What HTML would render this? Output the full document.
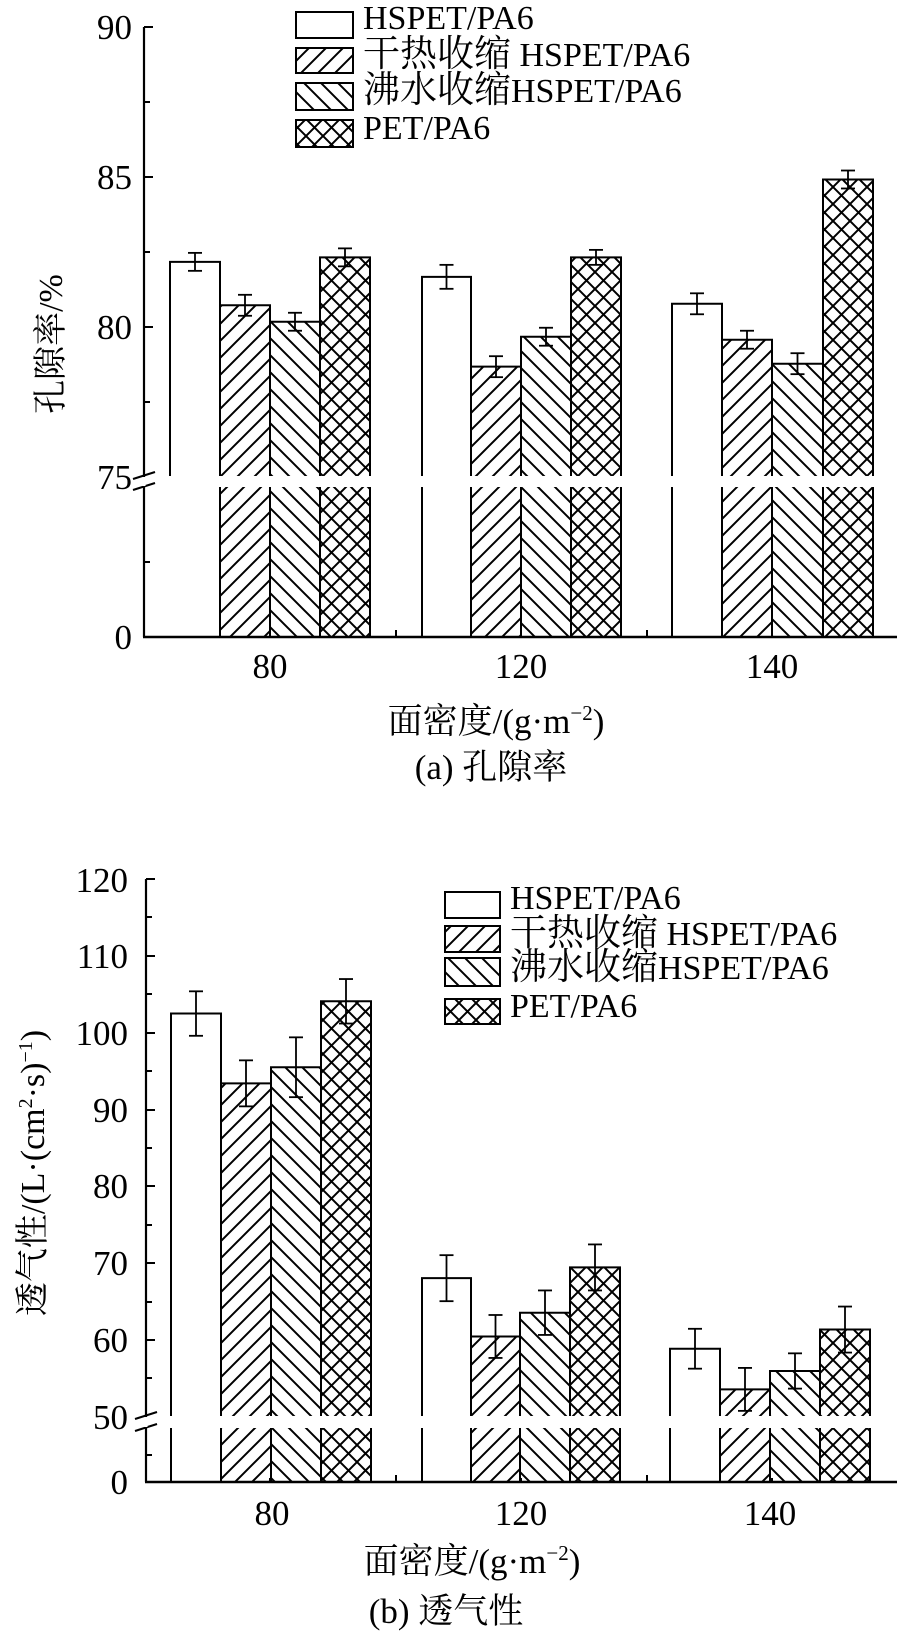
<!DOCTYPE html>
<html><head><meta charset="utf-8"><style>
html,body{margin:0;padding:0;background:#fff}
svg{display:block}
text{font-family:"Liberation Serif","Noto Serif CJK SC","Noto Sans CJK SC",serif;fill:#000}
</style></head><body>
<svg id="s" width="900" height="1634" viewBox="0 0 900 1634" xmlns="http://www.w3.org/2000/svg">
<defs>
<pattern id="fw" patternUnits="userSpaceOnUse" width="17" height="17"><path d="M-2,2 L2,-2 M0,17 L17,0 M15,19 L19,15" stroke="#000" stroke-width="2"/></pattern>
<pattern id="bk" patternUnits="userSpaceOnUse" width="17" height="17"><path d="M-2,15 L2,19 M0,0 L17,17 M15,-2 L19,2" stroke="#000" stroke-width="2"/></pattern>
<pattern id="cx" patternUnits="userSpaceOnUse" width="17" height="17"><path d="M-2,2 L2,-2 M0,17 L17,0 M15,19 L19,15 M-2,15 L2,19 M0,0 L17,17 M15,-2 L19,2" stroke="#000" stroke-width="2"/></pattern>
</defs>
<g id="g"></g>
<!-- Chart a text -->
<g font-size="35" text-anchor="end">
<text x="132" y="39">90</text><text x="132" y="189">85</text><text x="132" y="339">80</text><text x="132" y="489">75</text><text x="132" y="649">0</text>
</g>
<g font-size="35" text-anchor="middle">
<text x="270" y="678">80</text><text x="521" y="678">120</text><text x="772" y="678">140</text>
</g>
<text x="496" y="733" font-size="35" text-anchor="middle">面密度/(g·m<tspan font-size="21" dy="-13">−2</tspan><tspan dy="13">)</tspan></text>
<text x="491" y="779" font-size="35" text-anchor="middle">(a) 孔隙率</text>
<text transform="translate(62,344) rotate(-90)" font-size="34" text-anchor="middle">孔隙率/%</text>
<g font-size="34">
<text x="363" y="29">HSPET/PA6</text>
<text x="363" y="66"><tspan font-size="37">干热收缩</tspan> HSPET/PA6</text>
<text x="363" y="102"><tspan font-size="37">沸水收缩</tspan>HSPET/PA6</text>
<text x="363" y="139">PET/PA6</text>
</g>
<!-- Chart b text -->
<g font-size="35" text-anchor="end">
<text x="128" y="892">120</text><text x="128" y="968">110</text><text x="128" y="1045">100</text><text x="128" y="1122">90</text><text x="128" y="1198">80</text><text x="128" y="1275">70</text><text x="128" y="1352">60</text><text x="128" y="1429">50</text><text x="128" y="1494">0</text>
</g>
<g font-size="35" text-anchor="middle">
<text x="272" y="1525">80</text><text x="521" y="1525">120</text><text x="770" y="1525">140</text>
</g>
<text x="472" y="1573" font-size="35" text-anchor="middle">面密度/(g·m<tspan font-size="21" dy="-13">−2</tspan><tspan dy="13">)</tspan></text>
<text x="446" y="1623" font-size="35" text-anchor="middle">(b) 透气性</text>
<text transform="translate(44,1173) rotate(-90)" font-size="34" text-anchor="middle">透气性/(L·(cm<tspan font-size="20" dy="-12">2</tspan><tspan dy="12">·s)</tspan><tspan font-size="20" dy="-12">−1</tspan><tspan dy="12">)</tspan></text>
<g font-size="34">
<text x="510" y="909">HSPET/PA6</text>
<text x="510" y="945"><tspan font-size="37">干热收缩</tspan> HSPET/PA6</text>
<text x="510" y="979"><tspan font-size="37">沸水收缩</tspan>HSPET/PA6</text>
<text x="510" y="1017">PET/PA6</text>
</g>
</svg>
<script>
var g=document.getElementById('g'),NS='http://www.w3.org/2000/svg';
function el(t,a){var e=document.createElementNS(NS,t);for(var k in a)e.setAttribute(k,a[k]);g.appendChild(e);return e;}
function line(x1,y1,x2,y2,w){el('line',{x1:x1,y1:y1,x2:x2,y2:y2,stroke:'#000','stroke-width':w||2});}
var fills=['#fff','url(#fw)','url(#bk)','url(#cx)'];
function chart(o){
  var ax=o.ax;
  for(var gi=0;gi<3;gi++)for(var b=0;b<4;b++){
    var x0=o.xs[gi][b],x1=o.xs[gi][b+1],v=o.vals[gi][b],e=o.errs[gi][b];
    var yt=o.map(v);
    el('rect',{x:x0,y:yt,width:x1-x0,height:o.bu-yt,fill:fills[b],stroke:'none'});
    el('path',{d:'M'+x0+','+o.bu+'L'+x0+','+yt+'L'+x1+','+yt+'L'+x1+','+o.bu,fill:'none',stroke:'#000','stroke-width':2});
    el('rect',{x:x0,y:o.bl,width:x1-x0,height:o.y0-o.bl,fill:fills[b]});
    if(!(b==0&&gi==0&&!o.firstLow)) line(x0,o.bl,x0,o.y0);
    line(x1,o.bl,x1,o.y0);
    var xc=(x0+x1)/2,ya=o.map(v+e),yb=o.map(v-e);
    line(xc,ya,xc,yb,1.8);line(xc-7,ya,xc+7,ya,1.8);line(xc-7,yb,xc+7,yb,1.8);
  }
  line(ax,o.top,ax,o.bu+1,2.2);line(ax,o.bl-1,ax,o.y0,2.2);
  line(ax-1,o.y0,897,o.y0,2.5);
  o.major.forEach(function(y){line(ax,y,ax+9,y,2);});
  o.minor.forEach(function(y){line(ax,y,ax+6,y,2);});
  [396,647].forEach(function(x){line(x,o.y0,x,o.y0-7,2);});
  [270,521,772].forEach(function(x){line(x,o.y0,x,o.y0-4,2);});
  line(ax-11,o.bu+3,ax+11,o.bu-4,2);line(ax-11,o.bl+3,ax+11,o.bl-4,2);
  el('rect',{x:ax-1.5,y:o.bu+1,width:3,height:o.bl-o.bu-2,fill:'#fff'});
  o.leg.forEach(function(r,i){el('rect',{x:o.lx,y:r[0],width:o.lw,height:r[1]-r[0],fill:fills[i],stroke:'#000','stroke-width':2});});
}
var xsA=[[170,220,270,320,370],[422,471,521,571,621],[672,722,772,823,873]];
chart({ax:144,top:27,bu:476,bl:487,y0:637,
 map:function(v){return 476-(v-75)*29.95;},
 xs:xsA,
 vals:[[82.15,80.7,80.15,82.3],[81.65,78.65,79.65,82.3],[80.75,79.55,78.75,84.9]],
 errs:[[0.3,0.35,0.3,0.3],[0.4,0.35,0.3,0.25],[0.35,0.3,0.35,0.3]],
 major:[27,177,327],minor:[102,252,402,562],
 firstLow:false,
 lx:296,lw:57,leg:[[12,38],[48,73],[83,110],[120,147]]});
var xsB=[[171,221,271,321,371],[422,471,520,570,620],[670,720,770,820,870]];
chart({ax:146,top:879,bu:1416,bl:1428,y0:1482,
 map:function(v){return 1417-(v-50)*7.67;},
 xs:xsB,
 vals:[[102.6,93.5,95.6,104.2],[68.1,60.5,63.6,69.5],[58.9,53.6,56.0,61.4]],
 errs:[[2.9,3.0,3.9,2.9],[3.0,2.8,2.9,3.0],[2.6,2.8,2.3,3.0]],
 major:[879,956,1033,1110,1186,1263,1340],minor:[917,994,1071,1148,1225,1302,1378,1455],
 firstLow:true,
 lx:445,lw:55,leg:[[892,918],[926,952],[958,986],[999,1024]]});
</script>
</body></html>
